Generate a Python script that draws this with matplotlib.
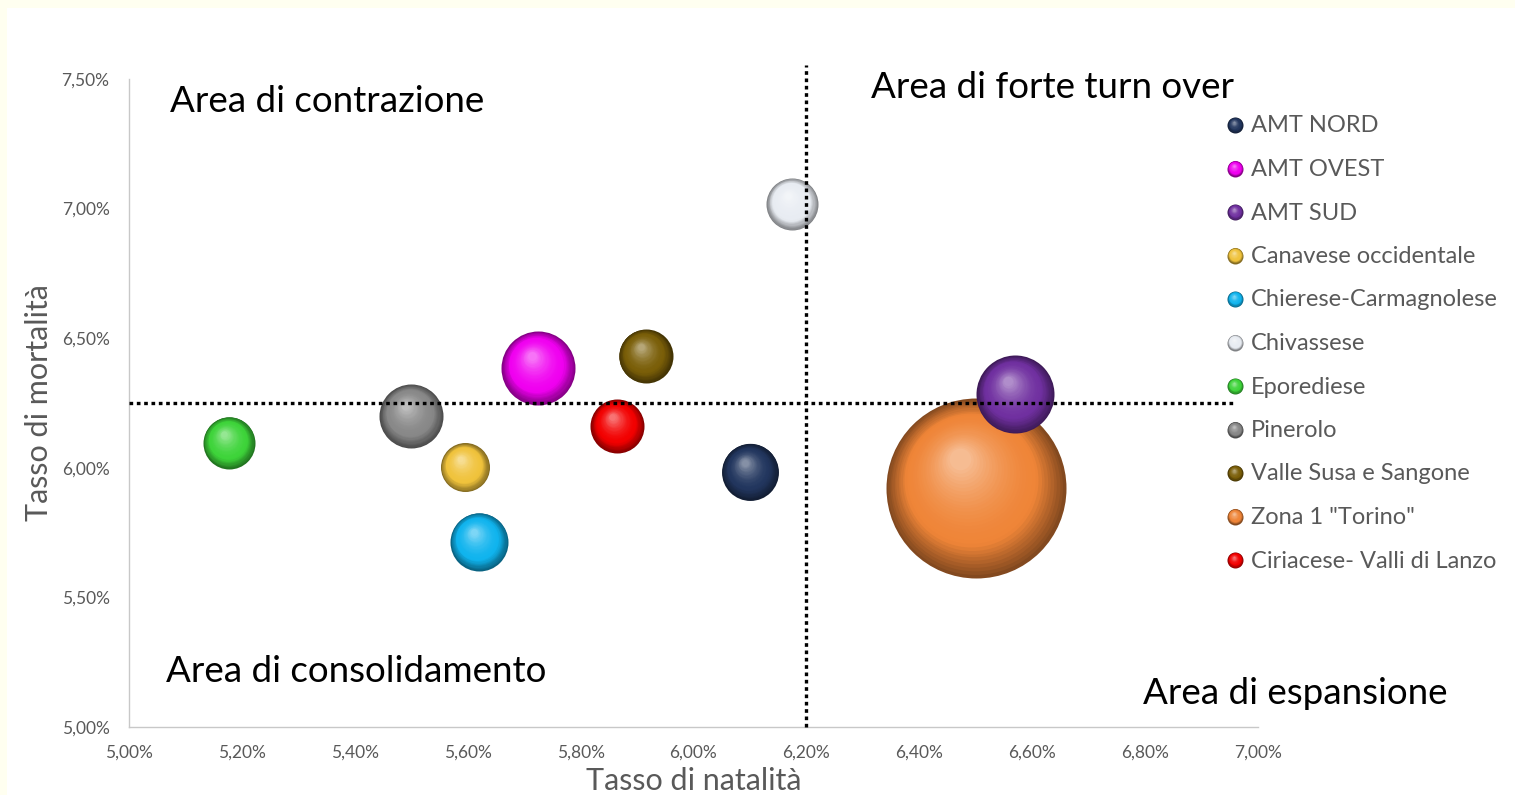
import numpy as np
import matplotlib
matplotlib.use("Agg")
import matplotlib.pyplot as plt
import matplotlib.transforms as mtransforms
from matplotlib.colors import to_rgb
from matplotlib.patches import Rectangle

# ---------------- data ----------------
zone = ["AMT NORD", "AMT OVEST", "AMT SUD", "Canavese occidentale",
        "Chierese-Carmagnolese", "Chivassese", "Eporediese", "Pinerolo",
        "Valle Susa e Sangone", "Zona 1 \"Torino\"", "Ciriacese- Valli di Lanzo"]
natalita = [6.10, 5.725, 6.57, 5.595, 5.62, 6.175, 5.177, 5.50, 5.915, 6.50, 5.865]
mortalita = [5.985, 6.385, 6.285, 6.002, 5.715, 7.018, 6.097, 6.20, 6.432, 5.922, 6.162]
dimensione = [810, 1369, 1521, 600, 841, 676, 676, 1024, 729, 8100, 729]
colori = ["#22365e", "#f000f0", "#7030a0", "#f0c33c", "#10b4ee", "#e8ecf2",
          "#3ed43a", "#888888", "#7a5e08", "#ef8538", "#f20000"]

x_ticks = [5.0, 5.2, 5.4, 5.6, 5.8, 6.0, 6.2, 6.4, 6.6, 6.8, 7.0]
y_ticks = [5.0, 5.5, 6.0, 6.5, 7.0, 7.5]
soglia_natalita = 6.20
soglia_mortalita = 6.25

quadranti = ["Area di contrazione", "Area di forte turn over",
             "Area di consolidamento", "Area di espansione"]

# ---------------- figure ----------------
W, H, DPI = 1515, 795, 100
plt.rcParams['font.family'] = ['Lato', 'DejaVu Sans']
fig = plt.figure(figsize=(W / DPI, H / DPI), dpi=DPI)
fig.patch.set_facecolor("#fffff0")
fig.patches.append(Rectangle((7 / W, 0), 1, (H - 8) / H, transform=fig.transFigure,
                             facecolor="white", edgecolor="none", zorder=-10))

ax = fig.add_axes([129 / W, 68 / H, (1258 - 129) / W, (727 - 79) / H])
ax.set_facecolor("none")
ax.set_xlim(5.0, 7.0)
ax.set_ylim(5.0, 7.5)
for s in ["top", "right"]:
    ax.spines[s].set_visible(False)
for s in ["left", "bottom"]:
    ax.spines[s].set_color("#c8c8c8")
    ax.spines[s].set_linewidth(1.0)

ax.set_xticks(x_ticks)
ax.set_yticks(y_ticks)
fmt = lambda v: f"{v:.2f}".replace(".", ",") + "%"
ax.set_xticklabels([fmt(v) for v in x_ticks])
ax.set_yticklabels([fmt(v) for v in y_ticks])
ax.tick_params(length=0, labelsize=12.5, labelcolor="#595959")
ax.tick_params(axis="x", pad=13)
ax.tick_params(axis="y", pad=14)
ax.set_xlabel("Tasso di natalità", fontsize=22, color="#595959", labelpad=4.5)
ax.set_ylabel("Tasso di mortalità", fontsize=22, color="#595959", labelpad=6)


def shade(base, t):
    b = np.array(to_rgb(base))
    dark = b * 0.55
    light = b + (1 - b) * 0.45
    if t < 0.3:
        u = t / 0.3
        return tuple(dark + (b - dark) * u)
    u = (t - 0.3) / 0.7
    return tuple(b + (light - b) * u ** 1.8)


def sphere(x, y, r_px, color, transform_base, zorder, n=32):
    for k in range(n):
        t = k / (n - 1)
        rr = r_px * (1 - 0.88 * t)
        dx = -0.18 * r_px * t
        dy = 0.32 * r_px * t
        tr = transform_base + mtransforms.ScaledTranslation(dx / DPI, dy / DPI, fig.dpi_scale_trans)
        ax.scatter([x], [y], s=(2 * rr * 72 / DPI) ** 2, color=[shade(color, t)],
                   linewidths=0, transform=tr, zorder=zorder, clip_on=False)


dmax = max(dimensione)
order = np.argsort(dimensione)[::-1]
for i in order:
    r = 90 * np.sqrt(dimensione[i] / dmax)
    sphere(natalita[i], mortalita[i], r, colori[i], ax.transData, zorder=2)

# threshold dotted lines
ax.plot([soglia_natalita, soglia_natalita], [5.0, 7.555], color="black", lw=2.4,
        linestyle=(0, (1.1, 1.1)), dash_capstyle="butt", clip_on=False, zorder=5)
ax.plot([5.0, 6.955], [soglia_mortalita, soglia_mortalita], color="black", lw=2.4,
        linestyle=(0, (1.1, 1.1)), dash_capstyle="butt", clip_on=False, zorder=5)

# quadrant labels (figure pixel positions)
def ftext(px, py, s, **kw):
    fig.text(px / W, 1 - py / H, s, **kw)

ftext(170, 101, quadranti[0], fontsize=26.5, color="black", va="center", ha="left")
ftext(871, 88, quadranti[1], fontsize=26.5, color="black", va="center", ha="left")
ftext(166, 671, quadranti[2], fontsize=26.5, color="black", va="center", ha="left")
ftext(1143, 693, quadranti[3], fontsize=26.5, color="black", va="center", ha="left")

# legend
for k, name in enumerate(zone):
    py = 125 + k * 43.5
    sphere(1235 / W, 1 - py / H, 8, colori[k], fig.transFigure, zorder=6, n=16)
    ftext(1251, py + 1, name, fontsize=17, color="#595959", va="center", ha="left")

fig.savefig("out.png", dpi=DPI, facecolor=fig.get_facecolor())
